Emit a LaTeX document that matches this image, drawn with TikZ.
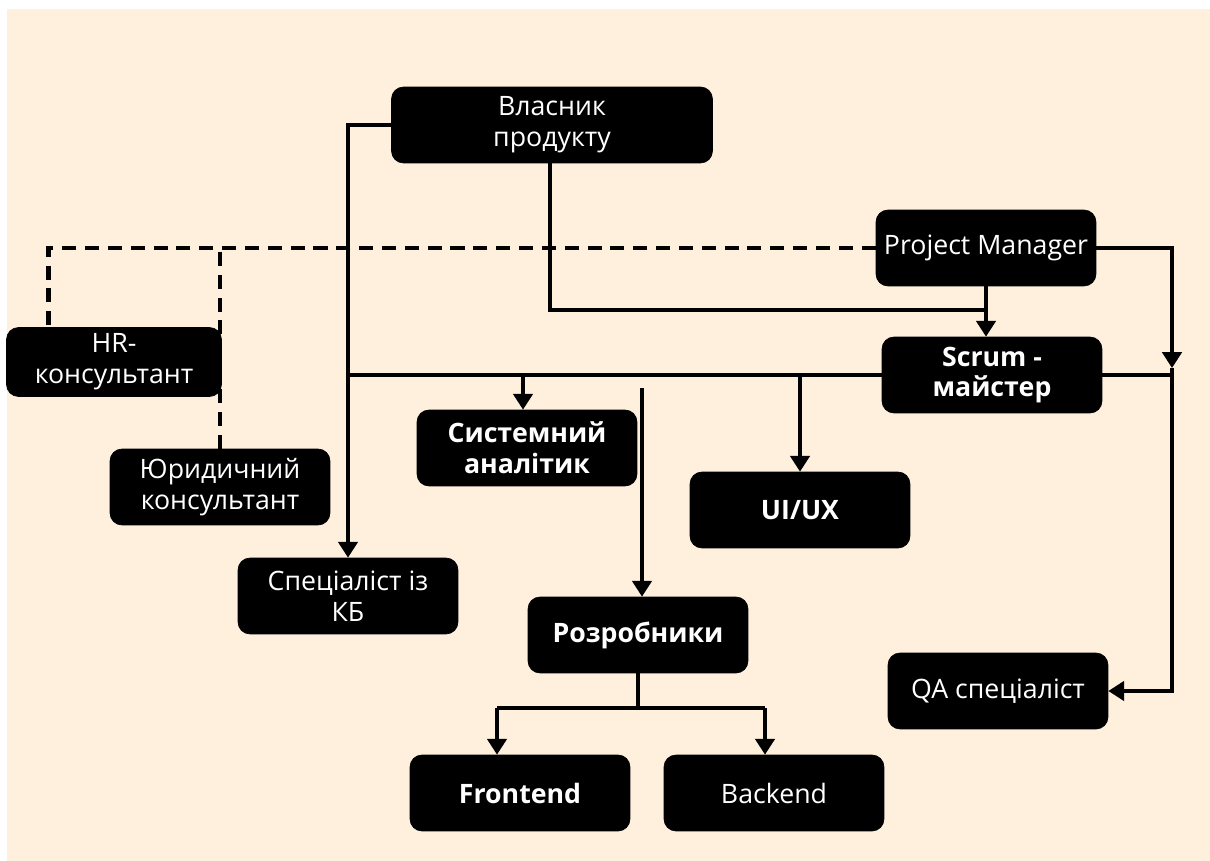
\documentclass[tikz,border=0pt]{standalone}
\usepackage{fontspec}
\setmainfont{Open Sans}
\usetikzlibrary{calc, arrows.meta}

\definecolor{cream}{RGB}{254,240,221}

\begin{document}
\begin{tikzpicture}[x=0.02cm, y=-0.02cm,
    box/.style={draw=black, fill=black, rounded corners=0.24cm, text=white,
        minimum width=4.4cm, minimum height=1.52cm, align=center,
        font=\fontsize{15.2}{17.5}\selectfont, inner sep=2pt},
    boldbox/.style={box, font=\fontsize{15.2}{17.5}\selectfont\bfseries},
    link/.style={line width=2pt},
    arr/.style={link, -{Triangle[width=11pt, length=9pt]}},
    dashline/.style={line width=2.8pt, dash pattern=on 8pt off 5pt}]

    % Page and background
    \useasboundingbox (0,0) rectangle (1210,861);
    \fill[cream] (7,9) rectangle (1210,861);

    % Roles
    \node[box, minimum width=6.42cm] (owner) at (552,125) {Власник\\продукту};
    \node[box] (pm) at (986,248) {Project Manager};
    \node[boldbox] (scrum) at (992,375) {Scrum -\\майстер};
    \node[box, minimum width=4.3cm, minimum height=1.38cm] (hr) at (114,362) {HR-\\консультант};
    \node[box] (jur) at (220,487) {Юридичний\\консультант};
    \node[boldbox] (sa) at (527,448) {Системний\\аналітик};
    \node[boldbox] (ux) at (800,510) {UI/UX};
    \node[box] (kb) at (348,596) {Спеціаліст із\\КБ};
    \node[boldbox] (dev) at (638,635) {Розробники};
    \node[box] (qa) at (998,691) {QA спеціаліст};
    \node[boldbox] (fe) at (520,793) {Frontend};
    \node[box] (be) at (774,793) {Backend};

    % Helper points
    \coordinate (rmid) at (1172,368);
    \coordinate (devtop) at (642,388);
    \coordinate (fl) at (497,708);
    \coordinate (fr) at (765,708);

    % Product owner links
    \draw[arr] (owner.west) -| (kb.north);
    \draw[link] ([xshift=-0.04cm]owner.south) |- (pm.south |- 0,310);
    \draw[arr] (pm.south) -- (pm.south |- scrum.north);

    % Dashed advisers
    \draw[dashline] (pm.west) -| ([xshift=0.84cm]hr.north west);
    \draw[dashline] (jur.north) -- (jur.north |- pm.west);

    % Right-hand bus to QA
    \draw[arr] (pm.east) -| (rmid);
    \draw[arr] (rmid) |- (qa.east);
    \draw[link] (scrum.east) -- (scrum.east -| rmid);

    % Scrum master bus
    \draw[link] (scrum.west) -- (scrum.west -| kb.north);
    \draw[arr] ([xshift=-0.08cm]sa.north |- scrum.west) -- ([xshift=-0.08cm]sa.north);
    \draw[arr] (ux.north |- scrum.west) -- (ux.north);
    \draw[arr] (devtop) -- (devtop |- dev.north);

    % Developers split
    \draw[link] (dev.south) -- (dev.south |- fl);
    \draw[link] (fl) -- (fr);
    \draw[arr] (fl) -- (fl |- fe.north);
    \draw[arr] (fr) -- (fr |- be.north);

\end{tikzpicture}
\end{document}
